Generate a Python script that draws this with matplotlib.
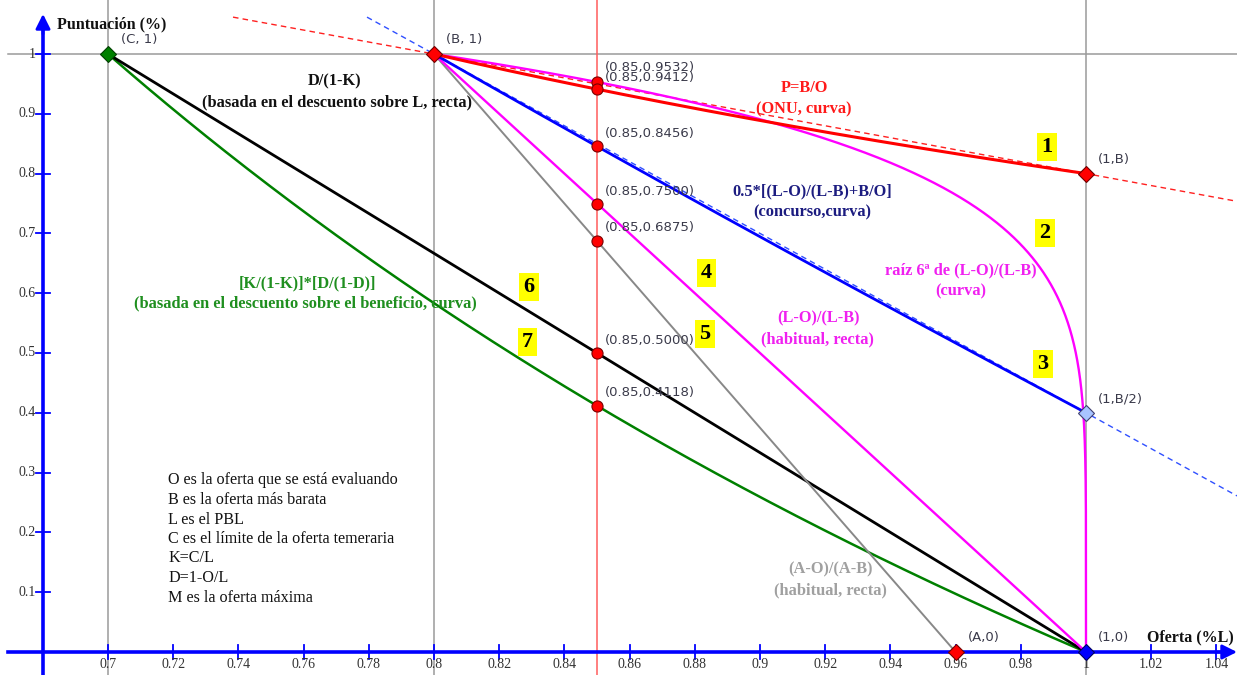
import numpy as np
import matplotlib
matplotlib.use("Agg")
import matplotlib.pyplot as plt

# Parameters of the scoring formulas (fractions of L)
B = 0.8      # cheapest offer
L = 1.0      # base budget (PBL)
C = 0.7      # abnormally-low-offer limit
A = 0.96     # offer scored with zero points in (A-O)/(A-B)
O_EVAL = 0.85  # offer evaluated with every formula

# Scores read at O = 0.85 (top to bottom)
eval_scores = [0.9532, 0.9412, 0.8456, 0.7500, 0.6875, 0.5000, 0.4118]

x_ticks = [0.7, 0.72, 0.74, 0.76, 0.78, 0.8, 0.82, 0.84, 0.86, 0.88, 0.9,
           0.92, 0.94, 0.96, 0.98, 1.0, 1.02, 1.04]
x_tick_labels = ["0.7", "0.72", "0.74", "0.76", "0.78", "0.8", "0.82", "0.84",
                 "0.86", "0.88", "0.9", "0.92", "0.94", "0.96", "0.98", "1",
                 "1.02", "1.04"]
y_ticks = [0.1, 0.2, 0.3, 0.4, 0.5, 0.6, 0.7, 0.8, 0.9, 1.0]
y_tick_labels = ["0.1", "0.2", "0.3", "0.4", "0.5", "0.6", "0.7", "0.8", "0.9", "1"]

legend_lines = [
    "O es la oferta que se está evaluando",
    "B es la oferta más barata",
    "L es el PBL",
    "C es el límite de la oferta temeraria",
    "K=C/L",
    "D=1-O/L",
    "M es la oferta máxima",
]

# ---------------------------------------------------------------- layout
W, H = 1237, 675
X0_PX, XSCALE = 108.0, 3260.0   # pixel of x=0.7, pixels per unit
Y1_PX, YSCALE = 54.0, 598.0     # pixel of y=1, pixels per unit


def dx(p):
    return 0.7 + (p - X0_PX) / XSCALE


def dy(p):
    return 1.0 - (p - Y1_PX) / YSCALE


fig = plt.figure(figsize=(W / 100, H / 100), dpi=100)
ax = fig.add_axes([0, 0, 1, 1])
ax.set_xlim(dx(0), dx(W))
ax.set_ylim(dy(H), dy(0))
ax.axis("off")

SERIF = "Liberation Serif"
SANS = "DejaVu Sans"
GRID = "#9a9a9a"

# reference grid lines
for xv in (C, B, L):
    ax.axvline(xv, color=GRID, lw=1.1, zorder=1)
ax.plot([dx(8), dx(W)], [1, 1], color=GRID, lw=1.1, zorder=1)
ax.axvline(O_EVAL, color="#ff5c5c", lw=1.1, zorder=1)

# axes with arrows
AX_BLUE = "#0000ff"
y_axis_x = dx(43)
ax.plot([y_axis_x, y_axis_x], [dy(H), dy(30)], color=AX_BLUE, lw=2.6, zorder=2)
ax.annotate("", xy=(y_axis_x, dy(14)), xytext=(y_axis_x, dy(34)),
            arrowprops=dict(arrowstyle="-|>", color=AX_BLUE, lw=2.0,
                            mutation_scale=22, shrinkA=0, shrinkB=0), zorder=2)
ax.plot([dx(8), dx(1222)], [0, 0], color=AX_BLUE, lw=2.6, zorder=2)
ax.annotate("", xy=(dx(1237), 0), xytext=(dx(1215), 0),
            arrowprops=dict(arrowstyle="-|>", color=AX_BLUE, lw=2.0,
                            mutation_scale=22, shrinkA=0, shrinkB=0), zorder=2)

tick_dy = 7 / YSCALE
tick_dx = 7 / XSCALE
for xv, lab in zip(x_ticks, x_tick_labels):
    ax.plot([xv, xv], [-tick_dy, tick_dy], color=AX_BLUE, lw=1.3, zorder=2)
    ax.text(xv, dy(664), lab, ha="center", va="center", family=SERIF,
            fontsize=10, color="#333333")
for yv, lab in zip(y_ticks, y_tick_labels):
    ax.plot([y_axis_x - tick_dx, y_axis_x + tick_dx], [yv, yv], color=AX_BLUE,
            lw=1.3, zorder=2)
    ax.text(dx(36), yv, lab, ha="right", va="center", family=SERIF,
            fontsize=10, color="#333333")

ax.text(dx(57), dy(24), "Puntuación (%)", ha="left", va="center", family=SERIF,
        fontweight="bold", fontsize=11.5, color="#111111")
ax.text(dx(1234), dy(637), "Oferta (%L)", ha="right", va="center", family=SERIF,
        fontweight="bold", fontsize=11.5, color="#111111")

# ---------------------------------------------------------------- curves
o_full_red = np.linspace(dx(233), dx(W), 300)
o_full_blue = np.linspace(dx(367), dx(W), 300)
# chords through (B,1)-(1,B) and (B,1)-(1,B/2)
ax.plot(o_full_red, 1 + (B - 1) * (o_full_red - B) / (L - B),
        color="#ff2020", lw=1.0, ls=(0, (4, 3)), zorder=3)
ax.plot(o_full_blue, 1 + (B / 2 - 1) * (o_full_blue - B) / (L - B),
        color="#3050ff", lw=1.0, ls=(0, (4, 3)), zorder=3)

o_bl = np.linspace(B, L, 400)
o_cl = np.linspace(C, L, 400)
o_ba = np.linspace(B, A, 50)

K = C / L
D_cl = 1 - o_cl / L

# 7: [K/(1-K)]*[D/(1-D)]
ax.plot(o_cl, (K / (1 - K)) * (D_cl / (1 - D_cl)), color="#008000", lw=1.8, zorder=4)
# 6: D/(1-K)
ax.plot(o_cl, D_cl / (1 - K), color="#000000", lw=2.0, zorder=4)
# 5: (A-O)/(A-B)
ax.plot(o_ba, (A - o_ba) / (A - B), color="#888888", lw=1.4, zorder=4)
# 4: (L-O)/(L-B)
ax.plot(o_bl, (L - o_bl) / (L - B), color="#ff00ff", lw=1.7, zorder=4)
# 3: 0.5*[(L-O)/(L-B)+B/O]
ax.plot(o_bl, 0.5 * ((L - o_bl) / (L - B) + B / o_bl), color="#0000ff", lw=2.0, zorder=4)
# 2: sixth root of (L-O)/(L-B), sampled densely near O = L
u = np.linspace(0, 1, 600)
o_root = L - (L - B) * u ** 6
ax.plot(o_root, ((L - o_root) / (L - B)) ** (1 / 6), color="#ff00ff", lw=1.7, zorder=4)
# 1: P = B/O
ax.plot(o_bl, B / o_bl, color="#ff0000", lw=2.2, zorder=4)

# ---------------------------------------------------------------- points
ax.plot([O_EVAL] * len(eval_scores), eval_scores, ls="none", marker="o",
        markersize=8, markerfacecolor="#ff0000", markeredgecolor="#7a0000",
        markeredgewidth=0.8, zorder=6)

diamonds = [
    (C, 1.0, "#008000", "#004000"),
    (B, 1.0, "#ff0000", "#700000"),
    (L, B, "#ff0000", "#700000"),
    (L, B / 2, "#a8c4ff", "#404070"),
    (A, 0.0, "#ff0000", "#700000"),
    (L, 0.0, "#0000ff", "#000060"),
]
for xv, yv, fc, ec in diamonds:
    ax.plot([xv], [yv], marker="D", markersize=8.5, markerfacecolor=fc,
            markeredgecolor=ec, markeredgewidth=0.8, ls="none", zorder=7)

PT_COLOR = "#3a3a4a"
point_labels = [
    ("(C, 1)", 121, 40), ("(B, 1)", 446, 40), ("(1,B)", 1098, 160),
    ("(1,B/2)", 1098, 399), ("(A,0)", 968, 637), ("(1,0)", 1098, 637),
]
for txt, xp, yp in point_labels:
    ax.text(dx(xp), dy(yp), txt, ha="left", va="center", family=SANS,
            fontsize=9.5, color=PT_COLOR, zorder=8)

eval_label_px = [67, 77, 134, 192, 228, 341, 393]
for val, yp in zip(eval_scores, eval_label_px):
    ax.text(dx(605), dy(yp), f"({O_EVAL:.2f},{val:.4f})", ha="left", va="center",
            family=SANS, fontsize=9.5, color=PT_COLOR, zorder=8)

# ---------------------------------------------------------------- formula labels
formula_labels = [
    ("D/(1-K)", 335, 81, "#111111"),
    ("(basada en el descuento sobre L, recta)", 337, 102, "#111111"),
    ("P=B/O", 804, 88, "#ff1a1a"),
    ("(ONU, curva)", 804, 109, "#ff1a1a"),
    ("0.5*[(L-O)/(L-B)+B/O]", 812, 191, "#1c1c80"),
    ("(concurso,curva)", 812, 212, "#1c1c80"),
    ("raíz 6ª de (L-O)/(L-B)", 961, 270, "#f020f0"),
    ("(curva)", 961, 291, "#f020f0"),
    ("(L-O)/(L-B)", 818, 318, "#f020f0"),
    ("(habitual, recta)", 817, 339, "#f020f0"),
    ("(A-O)/(A-B)", 830, 569, "#a0a0a0"),
    ("(habitual, recta)", 830, 590, "#a0a0a0"),
    ("[K/(1-K)]*[D/(1-D)]", 307, 283, "#1f8f1f"),
    ("(basada en el descuento sobre el beneficio, curva)", 305, 303, "#1f8f1f"),
]
for txt, xp, yp, col in formula_labels:
    ax.text(dx(xp), dy(yp), txt, ha="center", va="center", family=SERIF,
            fontweight="bold", fontsize=11.8, color=col, zorder=8)

number_boxes = [("1", 1047, 147), ("2", 1045, 233), ("3", 1043, 364),
                ("4", 706, 273), ("5", 705, 334), ("6", 529, 287), ("7", 527, 342)]
for txt, xp, yp in number_boxes:
    ax.text(dx(xp), dy(yp), txt, ha="center", va="center", family=SERIF,
            fontweight="bold", fontsize=16, color="#000000", zorder=8,
            bbox=dict(boxstyle="square,pad=0.18", fc="#ffff00", ec="none"))

legend_px = [480, 500, 520, 539, 558, 578, 598]
for txt, yp in zip(legend_lines, legend_px):
    ax.text(dx(168), dy(yp), txt, ha="left", va="center", family=SERIF,
            fontsize=11.6, color="#111111", zorder=8)

fig.savefig("out.png", dpi=100, facecolor="white")
